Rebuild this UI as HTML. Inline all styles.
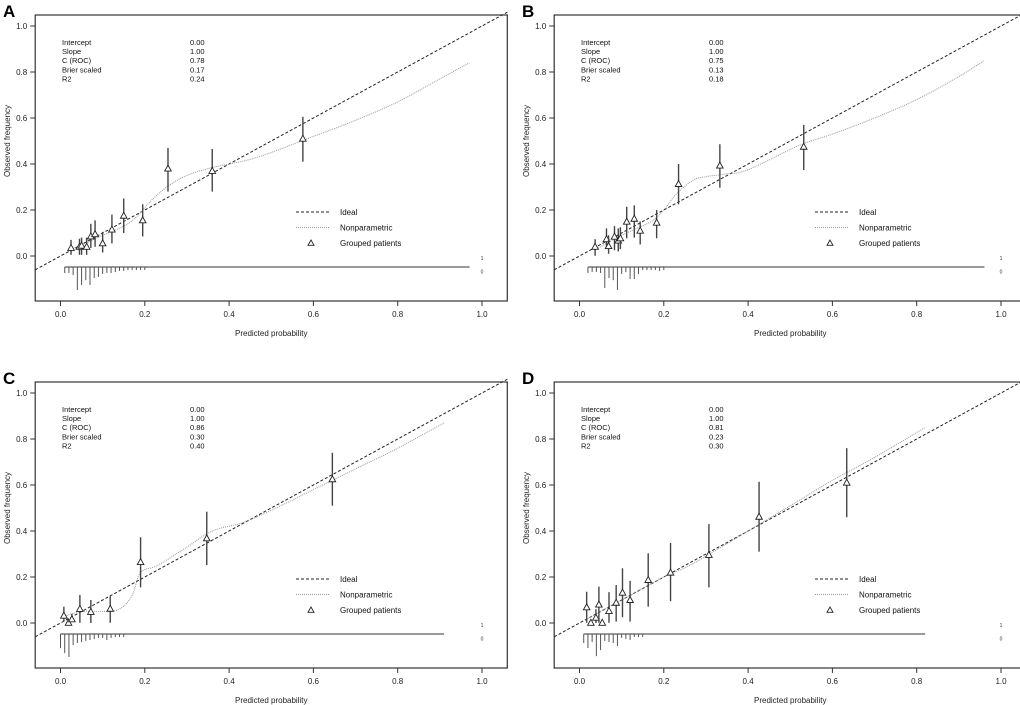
<!DOCTYPE html>
<html><head><meta charset="utf-8"><style>
html,body{margin:0;padding:0;background:#fff;}
svg{display:block;font-family:"Liberation Sans",Arial,sans-serif;}
</style></head><body>
<svg id="chart" width="1020" height="705" viewBox="0 0 1020 705"></svg>
<script>
const panelLetters=["A","B","C","D"];
const statLabels=["Intercept","Slope","C (ROC)","Brier scaled","R2"];
const statValuesA=["0.00","1.00","0.78","0.17","0.24"];
const statValuesB=["0.00","1.00","0.75","0.13","0.18"];
const statValuesC=["0.00","1.00","0.86","0.30","0.40"];
const statValuesD=["0.00","1.00","0.81","0.23","0.30"];
const tickValues=[0,0.2,0.4,0.6,0.8,1.0];
const tickLabels=["0.0","0.2","0.4","0.6","0.8","1.0"];
// grouped patients: x, y, lower, upper
const groupXA=[0.025,0.045,0.05,0.062,0.072,0.082,0.1,0.122,0.15,0.195,0.255,0.36,0.575];
const groupYA=[0.035,0.04,0.045,0.04,0.085,0.095,0.055,0.115,0.175,0.155,0.38,0.37,0.51];
const groupLoA=[0.005,0.005,0.005,0.005,0.035,0.04,0.015,0.055,0.1,0.085,0.28,0.28,0.41];
const groupHiA=[0.07,0.075,0.08,0.08,0.14,0.155,0.105,0.18,0.25,0.225,0.47,0.465,0.605];
const groupXB=[0.037,0.064,0.069,0.083,0.092,0.097,0.112,0.13,0.144,0.183,0.235,0.333,0.532];
const groupYB=[0.04,0.073,0.043,0.084,0.067,0.077,0.149,0.162,0.11,0.145,0.313,0.393,0.475];
const groupLoB=[0.001,0.038,0.01,0.025,0.02,0.03,0.077,0.08,0.05,0.077,0.225,0.297,0.374];
const groupHiB=[0.073,0.12,0.09,0.13,0.12,0.125,0.214,0.22,0.15,0.2,0.4,0.486,0.57];
const groupXC=[0.008,0.019,0.027,0.046,0.072,0.118,0.19,0.347,0.645];
const groupYC=[0.032,0.001,0.016,0.061,0.048,0.062,0.265,0.368,0.625];
const groupLoC=[0.006,0.001,0.006,0.001,0.0,0.001,0.155,0.252,0.51];
const groupHiC=[0.071,0.001,0.04,0.122,0.1,0.116,0.373,0.484,0.74];
const groupXD=[0.017,0.027,0.039,0.046,0.054,0.07,0.087,0.102,0.12,0.163,0.216,0.307,0.426,0.634];
const groupYD=[0.068,0.001,0.023,0.08,0.001,0.052,0.088,0.132,0.1,0.187,0.219,0.296,0.462,0.61];
const groupLoD=[0.001,0.001,0.0,0.001,0.001,0.001,0.006,0.025,0.006,0.071,0.095,0.155,0.31,0.46];
const groupHiD=[0.136,0.001,0.06,0.158,0.001,0.134,0.165,0.238,0.183,0.303,0.348,0.43,0.614,0.76];
// nonparametric curves
const npXA=[0.03,0.1,0.15,0.18,0.22,0.26,0.3,0.35,0.4,0.45,0.5,0.6,0.7,0.8,0.9,0.97];
const npYA=[0.03,0.09,0.13,0.17,0.25,0.31,0.35,0.38,0.40,0.42,0.45,0.52,0.59,0.67,0.77,0.84];
const npXB=[0.04,0.1,0.17,0.2,0.23,0.27,0.3,0.34,0.4,0.52,0.6,0.7,0.8,0.9,0.96];
const npYB=[0.03,0.09,0.15,0.2,0.27,0.33,0.345,0.355,0.375,0.48,0.53,0.6,0.68,0.78,0.85];
const npXC=[0.01,0.05,0.1,0.14,0.17,0.19,0.23,0.3,0.36,0.43,0.5,0.6,0.7,0.8,0.91];
const npYC=[0.03,0.05,0.05,0.06,0.12,0.22,0.25,0.33,0.40,0.435,0.49,0.58,0.67,0.76,0.87];
const npXD=[0.02,0.1,0.2,0.25,0.3,0.4,0.5,0.6,0.7,0.82];
const npYD=[0.02,0.1,0.2,0.24,0.29,0.4,0.51,0.62,0.72,0.85];
// rug spike lengths below baseline (probability units)
const rugA=[0.026,0.026,0.035,0.1,0.078,0.057,0.078,0.048,0.043,0.03,0.026,0.026,0.022,0.017,0.017,0.013,0.013,0.013,0.013,0.013];
const rugB=[0.026,0.022,0.022,0.026,0.091,0.048,0.057,0.1,0.03,0.022,0.052,0.052,0.03,0.013,0.013,0.013,0.013,0.017,0.013];
const rugC=[0.061,0.083,0.1,0.048,0.039,0.035,0.03,0.026,0.022,0.017,0.017,0.026,0.017,0.013,0.013,0.013];
const rugD=[0.039,0.061,0.035,0.096,0.07,0.03,0.035,0.039,0.052,0.017,0.022,0.026,0.013,0.013,0.013];
const rugStart=[0.01,0.02,0.0,0.01];
const rugEnd=[0.97,0.96,0.91,0.82];

const panels=[
 {dx:0,dy:0,stats:statValuesA,gx:groupXA,gy:groupYA,gl:groupLoA,gh:groupHiA,nx:npXA,ny:npYA,rug:rugA},
 {dx:519,dy:0,stats:statValuesB,gx:groupXB,gy:groupYB,gl:groupLoB,gh:groupHiB,nx:npXB,ny:npYB,rug:rugB},
 {dx:0,dy:367,stats:statValuesC,gx:groupXC,gy:groupYC,gl:groupLoC,gh:groupHiC,nx:npXC,ny:npYC,rug:rugC},
 {dx:519,dy:367,stats:statValuesD,gx:groupXD,gy:groupYD,gl:groupLoD,gh:groupHiD,nx:npXD,ny:npYD,rug:rugD}
];
const svg=document.getElementById('chart');
const NS="http://www.w3.org/2000/svg";
function mk(tag,attrs,parent,text){const e=document.createElementNS(NS,tag);for(const k in attrs)e.setAttribute(k,attrs[k]);if(text!==undefined)e.textContent=text;parent.appendChild(e);return e;}
function smoothPath(P){let d=`M${P[0][0]},${P[0][1]}`;for(let i=0;i<P.length-1;i++){const p0=P[Math.max(0,i-1)],p1=P[i],p2=P[i+1],p3=P[Math.min(P.length-1,i+2)];const c1=[p1[0]+(p2[0]-p0[0])/6,p1[1]+(p2[1]-p0[1])/6],c2=[p2[0]-(p3[0]-p1[0])/6,p2[1]-(p3[1]-p1[1])/6];d+=` C${c1[0]},${c1[1]} ${c2[0]},${c2[1]} ${p2[0]},${p2[1]}`;}return d;}

panels.forEach((p,i)=>{
 const sx=v=>p.dx+60.5+v*421.5;
 const sy=v=>p.dy+256-v*230;
 const g=mk('g',{},svg);
 
 
 const L=mk('text',{x:p.dx+3,y:p.dy+17,'font-size':17,'font-weight':'bold',fill:'#000'},g,panelLetters[i]);
 
 const box=mk('rect',{x:sx(-0.06),y:p.dy+15,width:sx(1.06)-sx(-0.06),height:286,fill:'none',stroke:'#333','stroke-width':1.2},g);
 
 tickValues.forEach((v,k)=>{
  mk('line',{x1:sx(-0.06),x2:sx(-0.06)-5,y1:sy(v),y2:sy(v),stroke:'#333','stroke-width':1},g);
  const t=mk('text',{x:sx(-0.06)-8,y:sy(v)+3,'font-size':8,'text-anchor':'end',fill:'#222'},g,tickLabels[k]);
  
  mk('line',{x1:sx(v),x2:sx(v),y1:p.dy+301,y2:p.dy+306,stroke:'#333','stroke-width':1},g);
  const tx=mk('text',{x:sx(v),y:p.dy+317,'font-size':8,'text-anchor':'middle',fill:'#222'},g,tickLabels[k]);
  
 });
 const xt=mk('text',{x:sx(0.5),y:p.dy+336,'font-size':8,'text-anchor':'middle',fill:'#222'},g,'Predicted probability');
 
 const yt=mk('text',{x:0,y:0,'font-size':8,'text-anchor':'middle',fill:'#222',transform:`translate(${p.dx+10},${sy(0.5)}) rotate(-90)`},g,'Observed frequency');
 
 statLabels.forEach((s,k)=>{
  const a=mk('text',{x:p.dx+62,y:p.dy+45+k*9.1,'font-size':7.5,fill:'#111'},g,s);
  
  const b=mk('text',{x:p.dx+190,y:p.dy+45+k*9.1,'font-size':7.5,fill:'#111'},g,p.stats[k]);
  
 });
 const il=mk('line',{x1:sx(-0.06),y1:sy(-0.06),x2:sx(1.06),y2:sy(1.06),stroke:'#222','stroke-width':1,'stroke-dasharray':'3,2'},g);
 
 const P=p.nx.map((x,k)=>[sx(x),sy(p.ny[k])]);
 const np=mk('path',{d:smoothPath(P),fill:'none',stroke:'#999','stroke-width':1,'stroke-dasharray':'1,1'},g);
 
 p.gx.forEach((x,k)=>{
  const eb=mk('line',{x1:sx(x),x2:sx(x),y1:sy(p.gl[k]),y2:sy(p.gh[k]),stroke:'#444','stroke-width':1.4},g);
  
  const cx=sx(x),cy=sy(p.gy[k]);
  const tr=mk('polygon',{points:`${cx},${cy-3.5} ${cx-3.3},${cy+2.5} ${cx+3.3},${cy+2.5}`,fill:'#fff',stroke:'#222','stroke-width':0.9},g);
  
 });
 const base=sy(-0.048);
 const rl=mk('line',{x1:sx(rugStart[i]),x2:sx(rugEnd[i]),y1:base,y2:base,stroke:'#333','stroke-width':1},g);
 
 for(let k=0;;k++){
  const x=rugStart[i]+k*0.01; if(x>rugEnd[i]+1e-9)break;
  if(k<p.rug.length){
   mk('line',{x1:sx(x),x2:sx(x),y1:base,y2:base+p.rug[k]*230,stroke:'#555','stroke-width':1},g);
  } else if(k%2===0){
   mk('line',{x1:sx(x),x2:sx(x),y1:base-0.8,y2:base+0.8,stroke:'#888','stroke-width':0.6},g);
  }
 }
 mk('text',{x:sx(1.0),y:sy(-0.017),'font-size':5,'text-anchor':'middle',fill:'#333'},g,'1');
 mk('text',{x:sx(1.0),y:sy(-0.075),'font-size':5,'text-anchor':'middle',fill:'#333'},g,'0');
 const lg=mk('g',{},g);
 
 mk('line',{x1:p.dx+296,x2:p.dx+330,y1:p.dy+212,y2:p.dy+212,stroke:'#222','stroke-width':1,'stroke-dasharray':'3,2'},lg);
 mk('text',{x:p.dx+340,y:p.dy+215,'font-size':8,fill:'#111'},lg,'Ideal');
 mk('line',{x1:p.dx+296,x2:p.dx+330,y1:p.dy+227.5,y2:p.dy+227.5,stroke:'#999','stroke-width':1,'stroke-dasharray':'1,1'},lg);
 mk('text',{x:p.dx+340,y:p.dy+230.5,'font-size':8,fill:'#111'},lg,'Nonparametric');
 const lx=p.dx+311,ly=p.dy+243;
 mk('polygon',{points:`${lx},${ly-3} ${lx-3},${ly+2.3} ${lx+3},${ly+2.3}`,fill:'#fff',stroke:'#222','stroke-width':0.9},lg);
 mk('text',{x:p.dx+340,y:p.dy+246,'font-size':8,fill:'#111'},lg,'Grouped patients');
});
</script>
</body></html>
